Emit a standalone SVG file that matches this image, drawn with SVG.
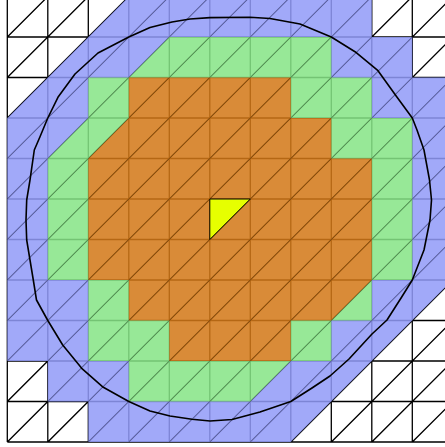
<svg xmlns="http://www.w3.org/2000/svg" width="445" height="447" viewBox="0 0 445 447">
<style>
.grid{fill:none;stroke:#000;stroke-width:1.3;vector-effect:non-scaling-stroke}
.diag{fill:none;stroke:#000;stroke-width:0.7;stroke-opacity:0.45;vector-effect:non-scaling-stroke}
.blue{fill:#929BF9}
.green{fill:#87E587}
.orange{fill:#D37918}
.yellow{fill:#E6FF00;stroke:#000;stroke-width:1;vector-effect:non-scaling-stroke}
.contour{fill:none;stroke:#000;stroke-width:1.6;stroke-linejoin:round}
</style>
<rect x="0" y="0" width="445" height="447" fill="#fff"/>
<g id="mesh" transform="translate(7.3,-3.5) scale(40.5)">
  <path id="grid-lines" class="grid" d="M0 0H11M0 1H11M0 2H11M0 3H11M0 4H11M0 5H11M0 6H11M0 7H11M0 8H11M0 9H11M0 10H11M0 11H11M0 0V11M1 0V11M2 0V11M3 0V11M4 0V11M5 0V11M6 0V11M7 0V11M8 0V11M9 0V11M10 0V11M11 0V11M0 1L1 0M0 2L2 0M0 3L3 0M0 4L4 0M0 5L5 0M0 6L6 0M0 7L7 0M0 8L8 0M0 9L9 0M0 10L10 0M0 11L11 0M1 11L11 1M2 11L11 2M3 11L11 3M4 11L11 4M5 11L11 5M6 11L11 6M7 11L11 7M8 11L11 8M9 11L11 9M10 11L11 10"/>
  <g id="rings" opacity="0.86">
    <polygon id="ring-blue" class="blue" points="3,0 9,0 9,1 10,1 10,2 11,2 11,7 10,8 9,9 8,10 7,11 2,11 2,10 1,10 1,9 0,9 0,3 1,2 2,1"/>
    <polygon id="ring-green" class="green" points="4,1 8,1 8,2 9,2 9,3 10,3 10,7 9,7 9,8 8,8 8,9 7,9 6,10 3,10 3,9 2,9 2,7 1,7 1,4 2,3 2,2 3,2"/>
    <polygon id="ring-orange" class="orange" points="3,2 7,2 7,3 8,3 8,4 9,4 9,7 8,8 7,8 7,9 4,9 4,8 3,8 3,7 2,7 2,4 3,3"/>
  </g>
  <path id="diagonals" class="diag" d="M0 1L1 0M0 2L2 0M0 3L3 0M0 4L4 0M0 5L5 0M0 6L6 0M0 7L7 0M0 8L8 0M0 9L9 0M0 10L10 0M0 11L11 0M1 11L11 1M2 11L11 2M3 11L11 3M4 11L11 4M5 11L11 5M6 11L11 6M7 11L11 7M8 11L11 8M9 11L11 9M10 11L11 10"/>
  <polygon id="source-triangle" class="yellow" points="5,5 6,5 5,6"/>
</g>
<g id="isoline">
  <polyline class="contour" points="128.8,37 150,27.5 172,22 190,19 210,17.6 250,17.3 270,18.5 300,24 331.3,37 355,51.7 378,70.7 396.7,96.7 412.3,118 417,130 424,150 429.5,180 431.5,200 430,220 424,250 412.3,280 401.7,297 387,320 372,334 349,359 330,376 312,388 290.8,401.5 260,412 232,419.5 210,421 192,419.3 170,416 150,411 128.8,401.5 103.3,387.3 81.7,368.3 62.7,345 47.8,320.5 36.5,300 33.3,280 30,260 26.7,240 26,220 26.7,200 30,180 34.3,150 40,136.7 47.8,118 58.3,96.7 75,74 98,53 128.8,37"/>
</g>
</svg>
